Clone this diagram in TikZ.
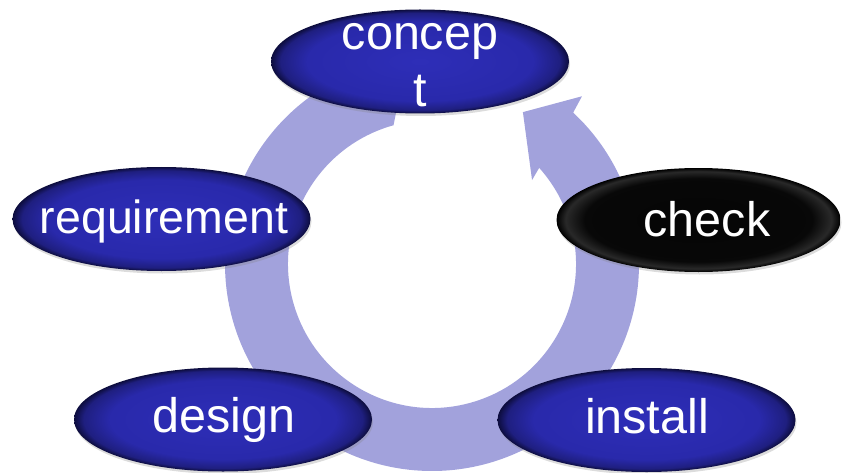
\documentclass[tikz,border=0pt]{standalone}
\usepackage{fontspec}
\setmainfont{Liberation Sans}
\usepackage{tikz}
\usetikzlibrary{shapes.geometric,shadows}
\definecolor{ringlavender}{RGB}{162,162,220}
\pgfdeclareradialshading{bluepillow}{\pgfpointorigin}{rgb(0bp)=(0.18,0.18,0.72);rgb(19bp)=(0.16,0.16,0.67);rgb(23.4bp)=(0.12,0.12,0.5);rgb(25bp)=(0.05,0.05,0.24);rgb(50bp)=(0.05,0.05,0.24)}
\pgfdeclareradialshading{blackpillow}{\pgfpointorigin}{rgb(0bp)=(0.02,0.02,0.02);rgb(20bp)=(0.03,0.03,0.03);rgb(23.4bp)=(0.16,0.16,0.16);rgb(25bp)=(0,0,0);rgb(50bp)=(0,0,0)}
\tikzset{
  stage/.style={ellipse, minimum width=298pt, minimum height=104pt, inner sep=0pt,
    shade, shading=bluepillow, drop shadow={opacity=0.28, shadow xshift=1pt, shadow yshift=-2.5pt}},
  stagetext/.style={text=white, font=\fontsize{48.5}{57}\selectfont, align=center, inner sep=0pt}
}

\begin{document}
\begin{tikzpicture}[x=1pt, y=1pt]
        \useasboundingbox (0,0) rectangle (842,-473);
        % Cycle arrow
        \begin{scope}[shift={(432,-264)}]
            \fill[ringlavender] (47:207) arc[start angle=47, end angle=-263, radius=207]
                -- (-254.5:144) arc[start angle=-254.5, end angle=41.9, radius=144]
                -- (40:130.6) -- (59.1:177) -- (48.2:225) -- cycle;
        \end{scope}
        % Stages
        \node[stage] (concept) at (420,-61.5) {};
        \node[stage] (requirement) at (161.5,-219) {};
        \node[stage, minimum width=284pt, shading=blackpillow] (check) at (698.5,-220) {};
        \node[stage] (design) at (223,-419.5) {};
        \node[stage] (install) at (646.5,-420) {};
        \node[stagetext] (concept-text) at (420,-65) {concep\\t};
        \node[stagetext, font=\fontsize{46.5}{56}\selectfont] (requirement-text) at (164,-221) {requirement};
        \node[stagetext] (check-text) at (707,-219) {check};
        \node[stagetext] (design-text) at (224,-420) {design};
        \node[stagetext] (install-text) at (647,-416) {install};
    \end{tikzpicture}
\end{document}
